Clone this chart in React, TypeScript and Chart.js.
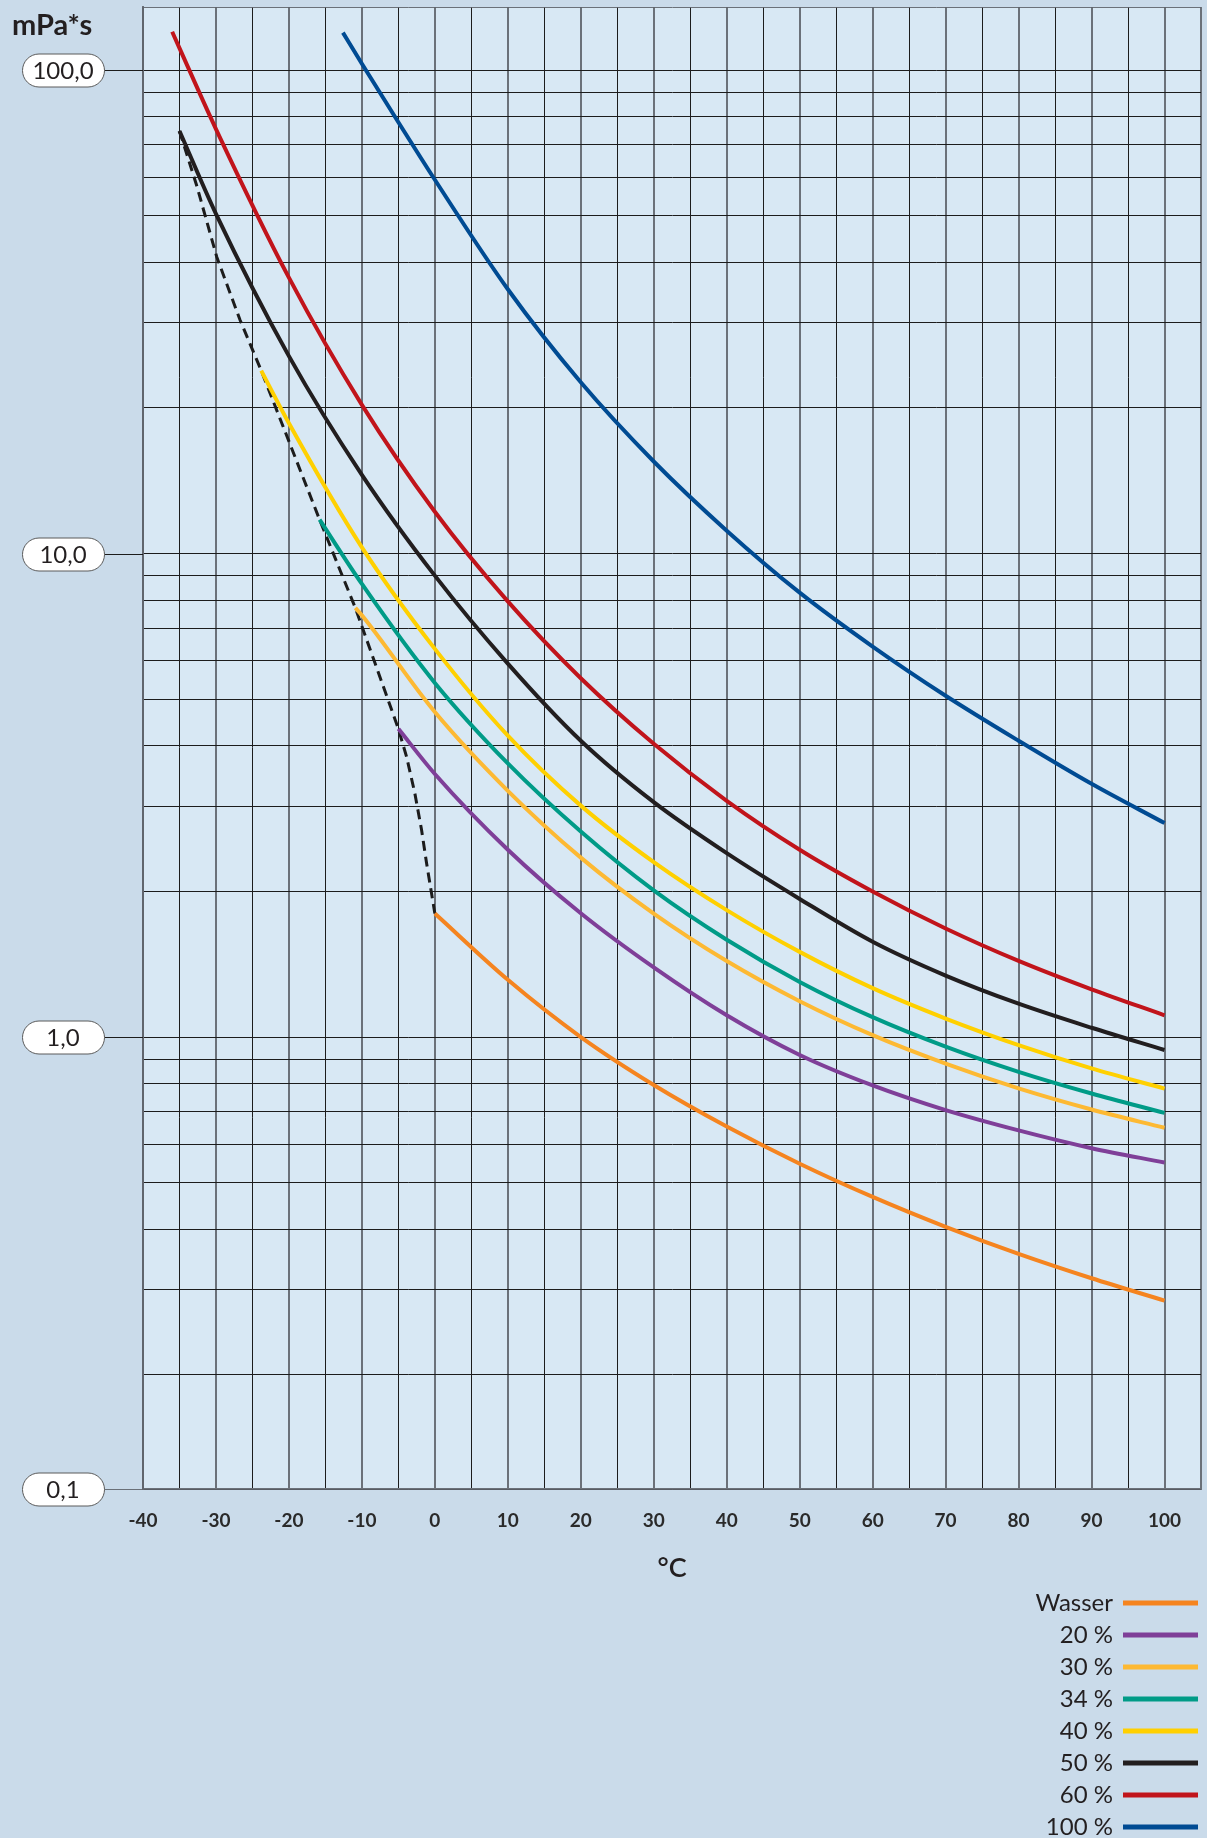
import React, { useEffect, useRef } from 'react';
import { Chart, registerables } from 'chart.js';

Chart.register(...registerables);

// ---------- axes ----------
const X_MIN = -40;
const X_MAX = 105;
const X_STEP = 5;
const Y_MIN = 0.1162;
const Y_MAX = 135;

const xLabelValues = [-40, -30, -20, -10, 0, 10, 20, 30, 40, 50, 60, 70, 80, 90, 100];
const yGridValues = [
  0.2, 0.3, 0.4, 0.5, 0.6, 0.7, 0.8, 0.9,
  1, 2, 3, 4, 5, 6, 7, 8, 9,
  10, 20, 30, 40, 50, 60, 70, 80, 90,
  100,
];
const yLabelValues = [100, 10, 1, Y_MIN];
const yLabels = ['100,0', '10,0', '1,0', '0,1'];
const unitLabel = 'mPa*s';
const xTitle = '°C';

// ---------- series (temperature °C, viscosity mPa*s) ----------
const tWasser = [0, 10, 20, 30, 40, 50, 60, 70, 80, 90, 100];
const vWasser = [1.8, 1.313, 1.0, 0.796, 0.653, 0.547, 0.467, 0.405, 0.356, 0.317, 0.285];

const t20 = [-5, 0, 10, 20, 30, 40, 50, 60, 70, 80, 90, 100];
const v20 = [4.34, 3.5, 2.44, 1.803, 1.393, 1.109, 0.918, 0.794, 0.706, 0.641, 0.589, 0.55];

const t30 = [-10.9, -10, 0, 10, 20, 30, 40, 50, 60, 70, 80, 90, 100];
const v30 = [7.72, 7.45, 4.7, 3.23, 2.35, 1.8, 1.436, 1.186, 1.009, 0.881, 0.783, 0.708, 0.649];

const t34 = [-15.8, -10, 0, 10, 20, 30, 40, 50, 60, 70, 80, 90, 100];
const v34 = [11.75, 8.65, 5.4, 3.68, 2.66, 2.01, 1.589, 1.3, 1.099, 0.955, 0.847, 0.764, 0.697];

const t40 = [-23.8, -20, -10, 0, 10, 20, 30, 40, 50, 60, 70, 80, 90, 100];
const v40 = [23.9, 18.6, 10.3, 6.35, 4.2, 3.01, 2.3, 1.83, 1.5, 1.262, 1.092, 0.962, 0.861, 0.782];

const t50 = [-35, -30, -20, -10, 0, 10, 20, 30, 40, 50, 60, 70, 80, 90, 100];
const v50 = [74.8, 50.4, 25.6, 14.55, 9.0, 5.92, 4.1, 3.06, 2.4, 1.93, 1.574, 1.34, 1.172, 1.045, 0.94];

const t60 = [-36, -35, -30, -20, -10, 0, 10, 20, 30, 40, 50, 60, 70, 80, 90, 100];
const v60 = [120, 111, 75.5, 37.2, 20.3, 12.2, 7.96, 5.52, 4.04, 3.08, 2.44, 2.0, 1.677, 1.437, 1.255, 1.109];

const t100 = [-12.6, -10, -5, 0, 10, 20, 30, 40, 50, 60, 70, 80, 90, 100];
const v100 = [119.5, 103, 78, 59.3, 35.2, 22.6, 15.5, 11.15, 8.3, 6.42, 5.08, 4.1, 3.34, 2.77];

// freezing limit (dashed)
const tFrost = [-35, -32.6, -29.9, -26.7, -23.8, -15.8, -10.9, -5, -3.88, -2.74, -1.82, -1.14, -0.45, 0];
const vFrost = [74.8, 57.4, 41.1, 30.4, 23.9, 11.75, 7.72, 4.34, 3.8, 3.19, 2.68, 2.29, 1.98, 1.8];

const seriesLabels = ['Wasser', '20 %', '30 %', '34 %', '40 %', '50 %', '60 %', '100 %'];
const seriesColors = ['#F5841F', '#7F3F98', '#FDB933', '#009B87', '#FFD000', '#221E1F', '#C1141B', '#004B93'];
const seriesT = [tWasser, t20, t30, t34, t40, t50, t60, t100];
const seriesV = [vWasser, v20, v30, v34, v40, v50, v60, v100];

// ---------- styles ----------
const PAGE_BG = '#cadbea';
const PLOT_BG = '#d8e8f4';
const TEXT = '#231f20';
const GRID_DARK = '#1c1c1c';
const GRID_GREY = 'rgba(95,100,108,0.9)';
const FONT = 'Lato, "Noto Sans", sans-serif';

function pts(t: number[], v: number[]) {
  return t.map((x, i) => ({ x, y: v[i] }));
}

const decorPlugin = {
  id: 'decor',
  beforeDraw(chart: any) {
    const { ctx, chartArea: a, width, height } = chart;
    ctx.save();
    ctx.fillStyle = PAGE_BG;
    ctx.fillRect(0, 0, width, height);
    ctx.fillStyle = PLOT_BG;
    ctx.fillRect(a.left, a.top, a.right - a.left, a.bottom - a.top);
    ctx.restore();
  },
  afterDraw(chart: any) {
    const { ctx, chartArea: a } = chart;
    const ys = chart.scales.y;
    ctx.save();
    // unit label
    ctx.fillStyle = TEXT;
    ctx.font = '700 29px ' + FONT;
    ctx.textAlign = 'left';
    ctx.textBaseline = 'alphabetic';
    ctx.fillText(unitLabel, 12, 35);

    // pill tick labels
    const x0 = 22;
    const x1 = 104;
    const h = 33;
    yLabelValues.forEach((v, i) => {
      const y = Math.round(ys.getPixelForValue(v)) + 0.5;
      ctx.strokeStyle = i === yLabelValues.length - 1 ? GRID_GREY : GRID_DARK;
      ctx.lineWidth = 1;
      ctx.beginPath();
      ctx.moveTo(x1, y);
      ctx.lineTo(a.left, y);
      ctx.stroke();
      ctx.beginPath();
      (ctx as any).roundRect(x0 + 0.5, y - h / 2, x1 - x0, h, h / 2);
      ctx.fillStyle = '#ffffff';
      ctx.fill();
      ctx.strokeStyle = '#5b5b5b';
      ctx.lineWidth = 1;
      ctx.stroke();
      ctx.fillStyle = TEXT;
      ctx.font = '400 24px ' + FONT;
      ctx.textAlign = 'center';
      ctx.textBaseline = 'middle';
      ctx.fillText(yLabels[i], (x0 + x1) / 2, y + 1);
    });

    // legend
    const rowY0 = 1603;
    const rowStep = 32;
    const textRight = 1113;
    const lineX0 = 1123;
    const lineX1 = 1198;
    seriesLabels.forEach((lab, i) => {
      const y = rowY0 + i * rowStep;
      ctx.fillStyle = TEXT;
      ctx.font = '400 24px ' + FONT;
      ctx.textAlign = 'right';
      ctx.textBaseline = 'middle';
      ctx.fillText(lab, textRight, y);
      ctx.strokeStyle = seriesColors[i];
      ctx.lineWidth = 5;
      ctx.lineCap = 'butt';
      ctx.beginPath();
      ctx.moveTo(lineX0, y);
      ctx.lineTo(lineX1, y);
      ctx.stroke();
    });
    ctx.restore();
  },
};

export default function App() {
  const ref = useRef<HTMLCanvasElement | null>(null);

  useEffect(() => {
    document.body.style.margin = '0';
    if (!ref.current) return;

    const drawOrder = [7, 6, 5, 4, 3, 2, 1, 0];
    const datasets: any[] = drawOrder.map((i) => ({
      label: seriesLabels[i],
      data: pts(seriesT[i], seriesV[i]),
      borderColor: seriesColors[i],
      backgroundColor: seriesColors[i],
      borderWidth: 4,
      pointRadius: 0,
      fill: false,
      cubicInterpolationMode: 'monotone',
    }));
    datasets.push({
      label: '',
      data: pts(tFrost, vFrost),
      borderColor: '#1c1c1c',
      borderWidth: 3,
      borderDash: [10, 6],
      pointRadius: 0,
      fill: false,
      tension: 0,
    });

    const chart = new Chart(ref.current, {
      type: 'line',
      data: { datasets },
      plugins: [decorPlugin],
      options: {
        animation: false,
        responsive: false,
        devicePixelRatio: 1,
        layout: { padding: { left: 0, right: 6, top: 7, bottom: 249 } },
        plugins: {
          legend: { display: false },
          tooltip: { enabled: false },
        },
        scales: {
          x: {
            type: 'linear',
            min: X_MIN,
            max: X_MAX,
            ticks: {
              stepSize: X_STEP,
              autoSkip: false,
              maxRotation: 0,
              padding: 3,
              color: '#2a2a2a',
              font: { family: FONT, size: 19, weight: 'bold' },
              callback: (v: any) => (xLabelValues.includes(Number(v)) ? String(v) : ''),
            },
            grid: {
              drawTicks: true,
              tickLength: 17,
              tickColor: 'rgba(0,0,0,0)',
              color: (c: any) => {
                const v = c.tick ? c.tick.value : 0;
                return v % 10 === 0 || v === X_MAX ? GRID_GREY : GRID_DARK;
              },
              lineWidth: (c: any) => {
                const v = c.tick ? c.tick.value : 0;
                return v % 10 === 0 || v === X_MAX ? 2 : 1;
              },
            },
            border: { display: true, color: GRID_GREY, width: 2 },
            title: {
              display: true,
              text: xTitle,
              color: TEXT,
              font: { family: FONT, size: 27, weight: '600' },
              padding: { top: 0, bottom: 5 },
            },
            afterFit: (s: any) => {
              s.height = 100;
            },
          } as any,
          y: {
            type: 'logarithmic',
            min: Y_MIN,
            max: Y_MAX,
            ticks: { display: false },
            afterBuildTicks: (s: any) => {
              s.ticks = [Y_MIN, ...yGridValues, Y_MAX].map((value) => ({ value }));
            },
            grid: {
              drawTicks: false,
              color: (c: any) => {
                const v = c.tick ? c.tick.value : 0;
                return v === Y_MAX ? GRID_GREY : GRID_DARK;
              },
              lineWidth: 1,
            },
            border: { display: true, color: GRID_GREY, width: 2 },
            afterFit: (s: any) => {
              s.width = 143;
            },
          } as any,
        },
      },
    });
    return () => chart.destroy();
  }, []);

  return (
    <div style={{ width: 1207, height: 1838, position: 'relative', background: PAGE_BG }}>
      <canvas ref={ref} width={1207} height={1838} style={{ display: 'block' }} />
    </div>
  );
}
